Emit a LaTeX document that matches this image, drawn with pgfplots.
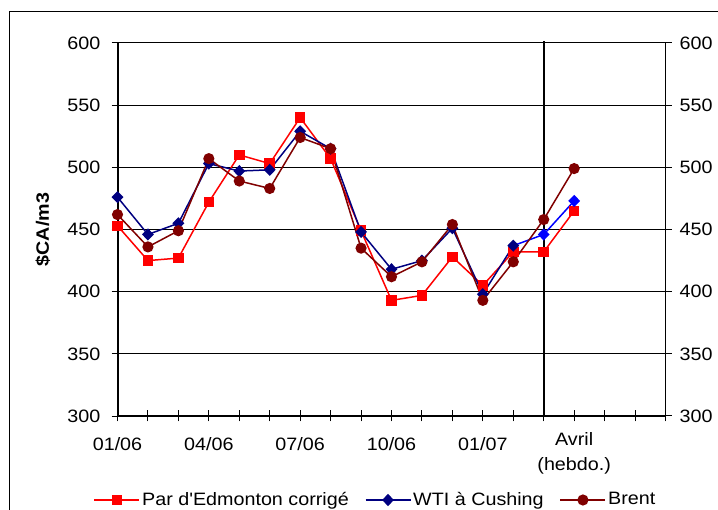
\documentclass[border=0pt]{standalone}
\usepackage{fontspec}
\setmainfont{Liberation Sans}[FakeStretch=1.1, Ligatures=TeXOff]
\usepackage{pgfplots}
\usepackage{pgfplotstable}
\pgfplotsset{compat=1.18}

\definecolor{parred}{HTML}{FF0000}
\definecolor{wtinavy}{HTML}{000080}
\definecolor{wtiblue}{HTML}{0000FF}
\definecolor{brentred}{HTML}{800000}

% prix mensuels (0-14) puis hebdo (15), $CA/m3
\pgfplotstableread{
x  par  wti  brent
0  453  476  462
1  425  446  436
2  427  455  449
3  472  503  507
4  510  497  489
5  503  498  483
6  540  529  524
7  507  515  515
8  449  448  435
9  393  418  412
10 397  425  424
11 428  451  454
12 405  398  393
13 432  437  424
14 432  446  458
15 465  473  499
}\prix

\pgfplotsset{
  cadre/.style={
    scale only axis, width=548bp, height=373bp,
    at={(117.5bp,94bp)}, anchor=south west,
    xmin=0, xmax=18, ymin=300, ymax=600,
    /pgf/number format/assume math mode=true,
    axis line style={-, black},
    clip=false,
  },
}

\begin{document}
\fontsize{18}{21}\selectfont
\begin{tikzpicture}
\useasboundingbox (0,0) rectangle (718bp,510bp);
\draw[line width=1bp] (9bp,0bp) -- (9bp,498bp) -- (718bp,498bp);

% graduations de l'axe x
\begin{axis}[cadre, axis x line*=bottom, hide y axis,
  xtick={0,...,18}, xticklabel=\empty, xtick align=center,
  major tick length=11bp, xtick style={black, line width=1bp},
  x axis line style={line width=1.2bp}]
\end{axis}

% axe de droite
\begin{axis}[cadre, axis y line*=right, hide x axis,
  ytick={300,350,...,600}, ytick align=outside,
  major tick length=6bp, ytick style={black, line width=1bp},
  y axis line style={line width=1bp},
  yticklabel style={xshift=2bp}]
\end{axis}

% axe principal
\begin{axis}[cadre, axis y line*=left, axis x line*=bottom,
  xtick={0,3,6,9,12}, xticklabels={01/06,04/06,07/06,10/06,01/07},
  extra x ticks={15}, extra x tick labels={{Avril\\[4bp](hebdo.)}},
  extra x tick style={xticklabel style={yshift=5bp}, xtick style={draw=none}},
  xticklabel style={align=center, yshift=-15bp},
  xtick style={draw=none},
  ytick={300,350,...,600}, ytick align=outside, major tick length=6bp,
  ytick style={black, line width=1bp},
  yticklabel style={xshift=-5bp},
  ymajorgrids, major grid style={black, line width=1bp},
  x axis line style={line width=1.2bp},
  y axis line style={line width=2bp},
  ylabel={\bfseries\$CA/m3},
  ylabel style={at={(axis description cs:-0.136,0.5)}, anchor=center},
  legend columns=3,
  legend style={at={(axis description cs:0.4708,-0.2252)}, anchor=center,
    draw=none, fill=none, /tikz/every even column/.append style={column sep=14bp}},
  legend image code/.code={\draw[mark repeat=2,mark phase=2,#1]
    plot coordinates {(0bp,0bp) (22.5bp,0bp) (45bp,0bp)};},
]
\draw[black, line width=2bp] (axis cs:14,300) -- ([yshift=2bp]axis cs:14,600);

\addplot[parred, line width=1.5bp, mark=square*, mark size=4.5bp]
  table[x=x, y=par] {\prix};
\addlegendentry{Par d'Edmonton corrigé}

\addplot[wtiblue, line width=1.5bp, mark=diamond*, mark size=5bp,
  mark options={xscale=1.3}, mark indices={2,3}, forget plot]
  coordinates {(13,437) (14,446) (15,473)};
\addplot[wtinavy, line width=1.5bp, mark=diamond*, mark size=5bp,
  mark options={xscale=1.3}, restrict x to domain=0:13]
  table[x=x, y=wti] {\prix};
\addlegendentry{WTI à Cushing}

\addplot[brentred, line width=1.5bp, mark=*, mark size=4.8bp]
  table[x=x, y=brent] {\prix};
\addlegendentry{Brent}
\end{axis}
\end{tikzpicture}
\end{document}
